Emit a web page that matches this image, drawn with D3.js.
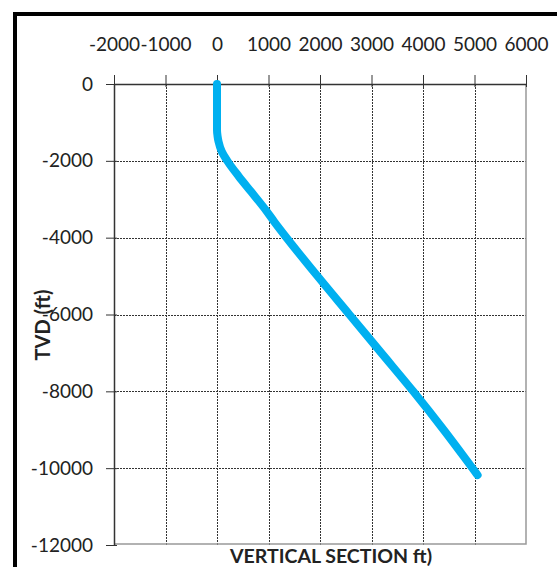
<!DOCTYPE html>
<html>
<head>
<meta charset="utf-8">
<script src="https://cdn.jsdelivr.net/npm/d3@7"></script>
<style>
  body { margin: 0; background: #fff; }
  text { font-family: Lato, "Noto Sans", sans-serif; fill: #222; }
</style>
</head>
<body>
<div id="chart"></div>
<script>
// well path
var vsection = [0, 0, 0, 10, 30, 90, 200, 420, 660, 900, 1120, 1350, 1950, 2570, 3190, 3810, 4400, 4960, 5060];
var tvd = [0, -600, -1200, -1350, -1500, -1750, -2000, -2400, -2800, -3200, -3600, -4000, -5000, -6000, -7000, -8000, -9000, -10000, -10180];

var xTicks = [-2000, -1000, 0, 1000, 2000, 3000, 4000, 5000, 6000];
var yTicks = [0, -2000, -4000, -6000, -8000, -10000, -12000];

var width = 557, height = 567;

var svg = d3.select('#chart').append('svg')
    .attr('width', width)
    .attr('height', height);

var x = d3.scaleLinear().domain([-2000, 6000]).range([114, 526]),
    y = d3.scaleLinear().domain([-12000, 0]).range([545, 84]);

// outer frame (only top and left show)
svg.append('path')
    .attr('d', 'M 15 ' + height + ' L 15 14 L ' + width + ' 14')
    .attr('fill', 'none')
    .attr('stroke', '#000')
    .attr('stroke-width', 4);

// grid
svg.append('g').selectAll('line')
    .data(xTicks.slice(1, -1))
  .enter().append('line')
    .attr('x1', function(d) { return Math.round(x(d)) + 0.5; })
    .attr('x2', function(d) { return Math.round(x(d)) + 0.5; })
    .attr('y1', y(0))
    .attr('y2', y(-12000))
    .attr('stroke', '#333')
    .attr('stroke-dasharray', '2,1');

svg.append('g').selectAll('line')
    .data(yTicks.slice(1, -1))
  .enter().append('line')
    .attr('x1', x(-2000))
    .attr('x2', x(6000))
    .attr('y1', function(d) { return Math.round(y(d)) + 0.5; })
    .attr('y2', function(d) { return Math.round(y(d)) + 0.5; })
    .attr('stroke', '#333')
    .attr('stroke-dasharray', '2,1');

// plot area border right / bottom
svg.append('path')
    .attr('d', 'M ' + x(-2000) + ' ' + (y(-12000) - 1) + ' L ' + x(6000) + ' ' + (y(-12000) - 1) + ' L ' + x(6000) + ' ' + y(0))
    .attr('fill', 'none')
    .attr('stroke', '#999')
    .attr('stroke-width', 1.5);

// top axis
var gx = svg.append('g')
    .attr('transform', 'translate(0,' + y(0) + ')')
    .call(d3.axisTop(x).tickValues(xTicks).tickSizeInner(9).tickSizeOuter(0).tickPadding(24)
      .tickFormat(function(d) { return String(d); }));
gx.select('.domain').attr('stroke', '#333').attr('stroke-width', 1.5);
gx.selectAll('.tick line').attr('y1', 3).attr('stroke', '#333');
gx.selectAll('.tick text').style('font-size', '19px').attr('fill', '#222');

// left axis
var gy = svg.append('g')
    .attr('transform', 'translate(' + x(-2000) + ',0)')
    .call(d3.axisLeft(y).tickValues(yTicks).tickSizeInner(8).tickSizeOuter(0).tickPadding(13)
      .tickFormat(function(d) { return String(d); }));
gy.select('.domain').attr('stroke', '#333').attr('stroke-width', 1.5);
gy.selectAll('.tick line').attr('x1', 3).attr('stroke', '#333');
gy.selectAll('.tick text').style('font-size', '19px').attr('fill', '#222');

// well path
var line = d3.line()
    .x(function(d, i) { return x(vsection[i]); })
    .y(function(d) { return y(d); })
    .curve(d3.curveMonotoneY);

svg.append('path')
    .datum(tvd)
    .attr('d', line)
    .attr('fill', 'none')
    .attr('stroke', '#00b0f0')
    .attr('stroke-width', 8)
    .attr('stroke-linecap', 'round')
    .attr('stroke-linejoin', 'round');

// titles
svg.append('text')
    .attr('transform', 'translate(50,325) rotate(-90)')
    .attr('text-anchor', 'middle')
    .style('font-size', '20px')
    .style('font-weight', 'bold')
    .text('TVD (ft)');

svg.append('text')
    .attr('x', 331)
    .attr('y', 563)
    .attr('text-anchor', 'middle')
    .attr('textLength', 202)
    .attr('lengthAdjust', 'spacingAndGlyphs')
    .style('font-size', '18px')
    .style('font-weight', 'bold')
    .text('VERTICAL SECTION ft)');
</script>
</body>
</html>
